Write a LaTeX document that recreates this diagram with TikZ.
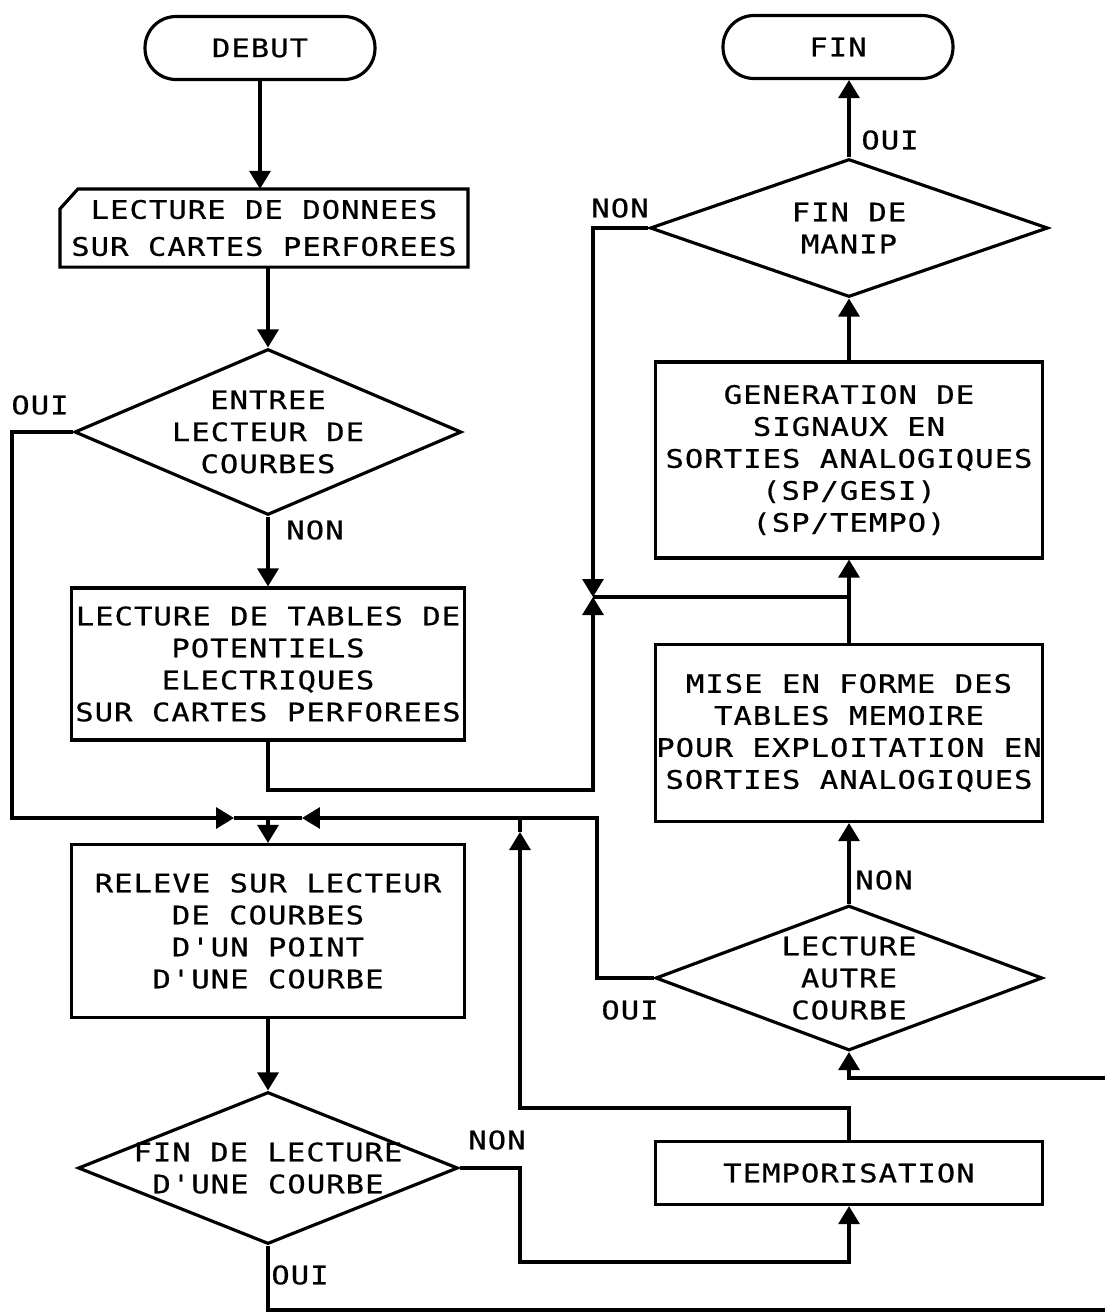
\documentclass[tikz,border=0pt]{standalone}
\usepackage{fontspec}
\newfontfamily\plotfont[FakeStretch=1.2,LetterSpace=4,FakeBold=0.6]{DejaVu Sans Mono}
\usetikzlibrary{shapes.geometric,arrows.meta}
\begin{document}
\begin{tikzpicture}[x=0.02cm,y=-0.02cm,
  line width=1.8pt,
  every node/.style={font={\plotfont\fontsize{14.5}{18.2}\selectfont}},
  term/.style={draw,rectangle,rounded corners=0.62cm,minimum width=4.6cm,minimum height=1.26cm},
  box/.style={draw,rectangle,inner sep=0pt,align=center},
  decision/.style={draw,diamond,inner sep=0pt},
  txt/.style={align=center,inner sep=0pt},
  arr/.style={-{Triangle[length=0.36cm,width=0.42cm]}}]
\useasboundingbox (0,0) rectangle (1105,1313);

% terminals
\node[term] (debut) at (260,48) {DEBUT};
\node[term] (fin) at (838,47) {FIN};

% punched-card input
\node[txt,minimum width=8.1cm,minimum height=1.5cm] (card) at (264,228)
  {LECTURE DE DONNEES\\[0.1cm]SUR CARTES PERFOREES};
\draw ([xshift=0.36cm]card.north west) -- (card.north east) -- (card.south east)
  -- (card.south west) -- ([yshift=-0.4cm]card.north west) -- cycle;

% left column
\node[decision,minimum width=7.74cm,minimum height=3.32cm] (entree) at (268,432) {};
\node[txt] at (entree.center) {ENTREE\\LECTEUR DE\\COURBES};

\node[box,minimum width=7.86cm,minimum height=3.04cm] (tables) at (268,664)
  {LECTURE DE TABLES DE\\POTENTIELS\\ELECTRIQUES\\SUR CARTES PERFOREES};

\node[box,minimum width=7.86cm,minimum height=3.46cm] (releve) at (268,931)
  {RELEVE SUR LECTEUR\\DE COURBES\\D'UN POINT\\D'UNE COURBE};

\node[decision,minimum width=7.6cm,minimum height=3.04cm] (finlect) at (268,1168) {};
\node[txt] at (finlect.center) {FIN DE LECTURE\\D'UNE COURBE};

% right column
\node[decision,minimum width=7.96cm,minimum height=2.76cm] (manip) at (849,228) {};
\node[txt] at (manip.center) {FIN DE\\MANIP};

\node[box,minimum width=7.74cm,minimum height=3.92cm] (gen) at (849,460)
  {GENERATION DE\\SIGNAUX EN\\SORTIES ANALOGIQUES\\(SP/GESI)\\(SP/TEMPO)};

\node[box,minimum width=7.74cm,minimum height=3.54cm] (mise) at (849,733)
  {MISE EN FORME DES\\TABLES MEMOIRE\\POUR EXPLOITATION EN\\SORTIES ANALOGIQUES};

\node[decision,minimum width=7.74cm,minimum height=2.9cm] (autre) at (849,978) {};
\node[txt] at (autre.center) {LECTURE\\AUTRE\\COURBE};

\node[box,minimum width=7.74cm,minimum height=1.26cm] (tempo) at (849,1173) {TEMPORISATION};

% junction and corner points
\coordinate (mergeL) at (234,818);
\coordinate (mergeR) at (302,818);
\coordinate (merge) at (268,818);
\coordinate (join) at (593,597);
\coordinate (ouiL) at (12,818);
\coordinate (tabL) at (593,790);
\coordinate (autL) at (597,818);
\coordinate (nonL) at (520,1262);
\coordinate (tmpL) at (520,1108);
\coordinate (tmpT) at (520,832);
\coordinate (tmpE) at (520,818);
\coordinate (edgeA) at (1105,1310);
\coordinate (edgeB) at (1105,1078);

% connectors
\draw[arr] (debut.south) -- (debut.south |- card.north);
\draw[arr] (card.south -| entree.north) -- (entree.north);
\draw[arr] (entree.south) -- (tables.north);
\draw[arr] (entree.west) -| (ouiL) -- (mergeL);
\draw[arr] (tables.south) |- (tabL) -- (join);
\draw[arr] (manip.west) -| (join);
\draw (join) -- (gen.south |- join);
\draw[arr] (mise.north) -- (gen.south);
\draw[arr] (gen.north) -- (manip.south);
\draw[arr] (manip.north) -- (manip.north |- fin.south);
\draw[arr] (autre.north) -- (mise.south);
\draw[arr] (autre.west) -| (autL) -- (mergeR);
\draw (mergeL) -- (mergeR);
\draw[arr] (merge) -- (releve.north);
\draw[arr] (releve.south) -- (finlect.north);
\draw[arr] (finlect.east) -| (nonL) -| (tempo.south);
\draw[arr] (tempo.north) |- (tmpL) -- (tmpT);
\draw (tmpT) -- (tmpE);
\draw (finlect.south) |- (edgeA);
\draw[arr] (edgeB) -| (autre.south);

% branch labels
\node[txt] at (315,530) {NON};
\node[txt] at (40,405) {OUI};
\node[txt] at (620,208) {NON};
\node[txt] at (890,140) {OUI};
\node[txt] at (884,880) {NON};
\node[txt] at (630,1010) {OUI};
\node[txt] at (497,1140) {NON};
\node[txt] at (300,1275) {OUI};
\end{tikzpicture}
\end{document}
